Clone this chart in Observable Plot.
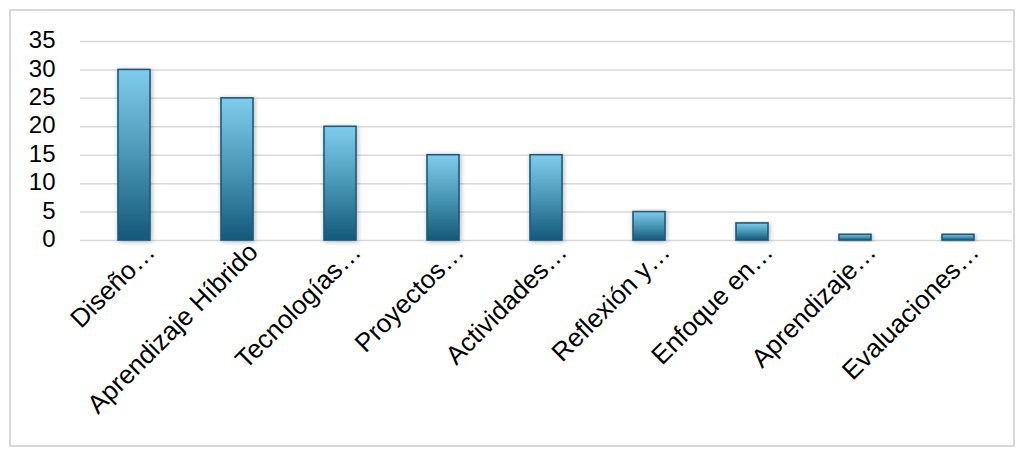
<!DOCTYPE html>
<html>
<head>
<meta charset="utf-8">
<script src="https://cdn.jsdelivr.net/npm/d3@7"></script>
<script src="https://cdn.jsdelivr.net/npm/@observablehq/plot@0.6"></script>
<style>
  html, body { margin: 0; padding: 0; background: #fff; }
  #wrap { position: relative; width: 1024px; height: 455px; overflow: hidden; }
  #frame { position: absolute; left: 9px; top: 9px; width: 1002px; height: 434px; border: 2px solid #d9d9d9; box-sizing: content-box; pointer-events: none; }
  svg { font-family: "Liberation Sans", Arial, sans-serif; }
</style>
</head>
<body>
<div id="wrap"><div id="frame"></div></div>
<script>
const categories = [
  "Diseño…",
  "Aprendizaje Híbrido",
  "Tecnologías…",
  "Proyectos…",
  "Actividades…",
  "Reflexión y…",
  "Enfoque en…",
  "Aprendizaje…",
  "Evaluaciones…"
];
const values = [30, 25, 20, 15, 15, 5, 3, 1, 1];
const yTicks = [0, 5, 10, 15, 20, 25, 30, 35];

const data = categories.map((c, i) => ({category: c, value: values[i]}));

const chart = Plot.plot({
  width: 1024,
  height: 455,
  marginLeft: 80,
  marginRight: 12,
  marginTop: 41,
  marginBottom: 215,
  style: {fontFamily: "Liberation Sans, Arial, sans-serif", background: "transparent"},
  x: {domain: categories, paddingInner: 0.69, paddingOuter: 0.345, label: null, axis: null},
  y: {domain: [0, 35], ticks: yTicks, label: null},
  marks: [
    Plot.gridY(yTicks, {stroke: "#d9d9d9", strokeOpacity: 1, strokeWidth: 1.5}),
    Plot.barY(data, {
      x: "category", y: "value",
      fill: "url(#barGrad)", stroke: "#1b5b7c", strokeWidth: 1.6
    }),
    Plot.axisY(yTicks, {
      tickSize: 0, tickPadding: 25, fontSize: 24, fill: "#000", textAnchor: "end", dy: -1
    }),
    Plot.text(data, {
      x: "category", y: () => 0,
      text: "category",
      rotate: -45, textAnchor: "end", lineAnchor: "top",
      fontSize: 26, fill: "#000", dx: 9, dy: 0
    })
  ]
});

const svg = d3.select(chart);
const defs = svg.insert("defs", ":first-child");
const g = defs.append("linearGradient").attr("id", "barGrad")
  .attr("x1", 0).attr("y1", 0).attr("x2", 0).attr("y2", 1);
g.append("stop").attr("offset", "0%").attr("stop-color", "#80ccec");
g.append("stop").attr("offset", "50%").attr("stop-color", "#4a97b6");
g.append("stop").attr("offset", "100%").attr("stop-color", "#14587a");
const f = defs.append("filter").attr("id", "shadow").attr("x", "-30%").attr("y", "-10%").attr("width", "160%").attr("height", "130%");
f.append("feDropShadow").attr("dx", 1).attr("dy", 1).attr("stdDeviation", 2.5).attr("flood-color", "#000").attr("flood-opacity", 0.3);
svg.selectAll("g[aria-label='bar'] rect").attr("filter", "url(#shadow)");

const wrap = document.getElementById("wrap");
chart.style.position = "absolute";
chart.style.left = "0px";
chart.style.top = "0px";
wrap.insertBefore(chart, wrap.firstChild);
</script>
</body>
</html>
